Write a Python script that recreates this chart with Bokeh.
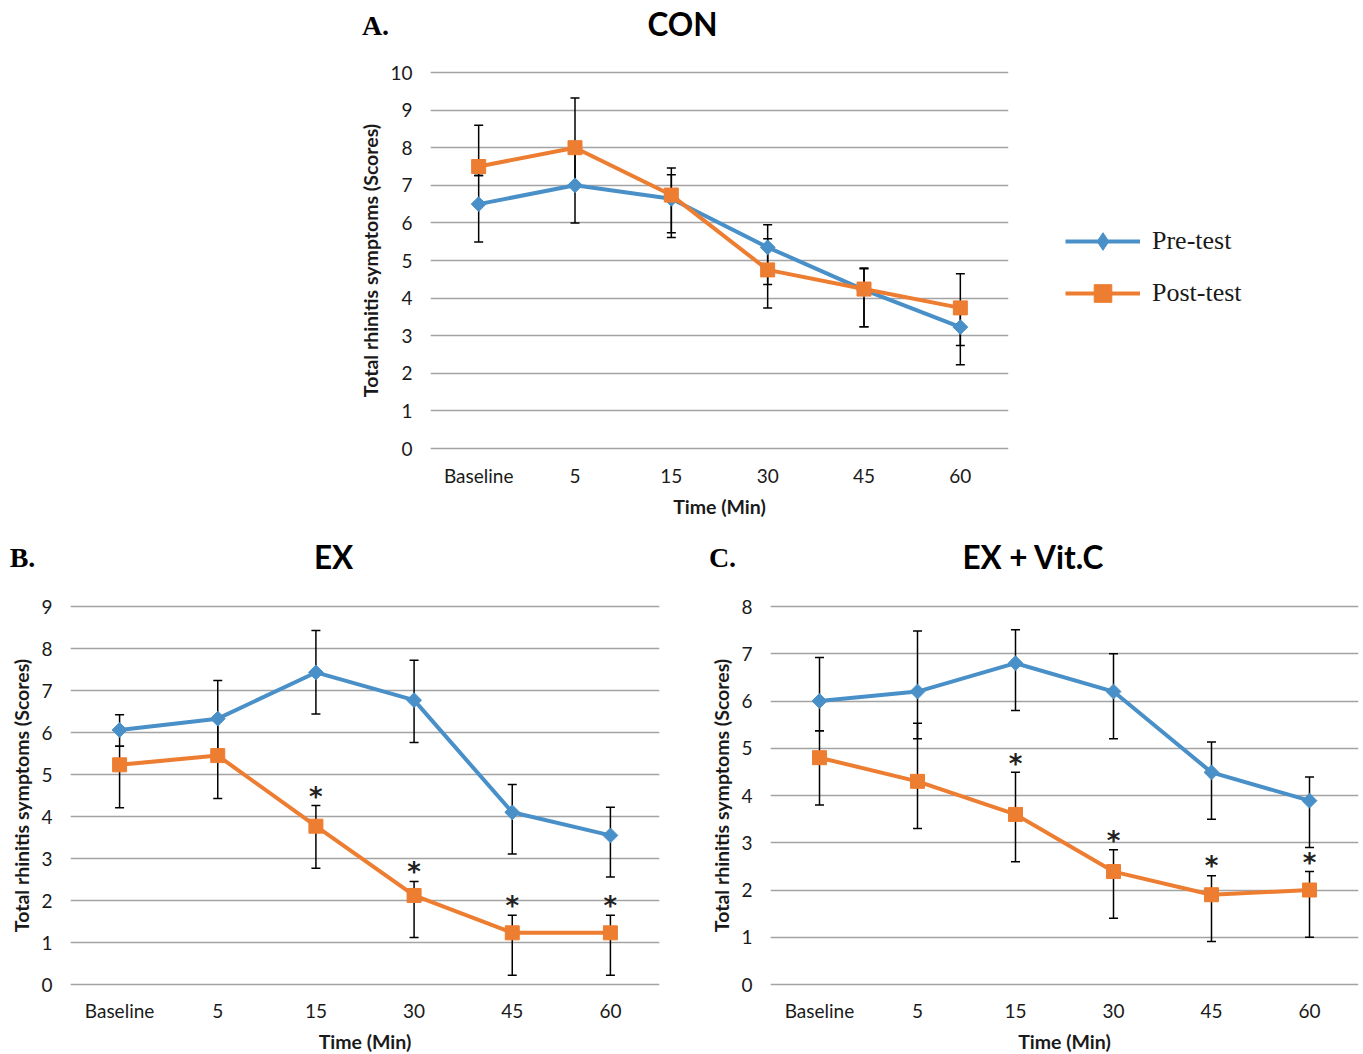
import math
from bokeh.plotting import figure
from bokeh.models import (FactorRange, Range1d, ColumnDataSource, Whisker, TeeHead,
                          Label, Legend, LegendItem, SingleIntervalTicker)
from bokeh.layouts import column, row
from bokeh.core.properties import value
from bokeh.embed import file_html
from bokeh.resources import INLINE

# ---------------- data ----------------
times = ["Baseline", "5", "15", "30", "45", "60"]

# A. CON
con_pre = [6.5, 7.0, 6.64, 5.35, 4.22, 3.23]
con_pre_lo = [5.49, 6.0, 5.61, 4.36, 3.24, 2.23]
con_pre_hi = [7.26, 8.0, 7.46, 5.95, 4.78, 3.74]
con_post = [7.5, 8.0, 6.74, 4.75, 4.24, 3.74]
con_post_lo = [7.26, 7.0, 5.74, 3.74, 3.24, 2.74]
con_post_hi = [8.6, 9.32, 7.28, 5.58, 4.8, 4.65]

# B. EX
ex_pre = [6.06, 6.33, 7.43, 6.77, 4.10, 3.55]
ex_pre_lo = [5.67, 5.45, 6.44, 5.76, 3.11, 2.56]
ex_pre_hi = [6.42, 7.24, 8.43, 7.72, 4.76, 4.22]
ex_post = [5.23, 5.45, 3.77, 2.12, 1.23, 1.23]
ex_post_lo = [4.21, 4.43, 2.77, 1.12, 0.22, 0.22]
ex_post_hi = [5.67, 6.33, 4.26, 2.45, 1.65, 1.65]
ex_star_x = ["15", "30", "45", "60"]
ex_star_y = [4.51, 2.72, 1.92, 1.92]

# C. EX + Vit.C
vc_pre = [6.0, 6.2, 6.8, 6.2, 4.49, 3.89]
vc_pre_lo = [5.37, 5.2, 5.8, 5.2, 3.5, 2.9]
vc_pre_hi = [6.92, 7.48, 7.51, 7.0, 5.13, 4.39]
vc_post = [4.8, 4.3, 3.6, 2.39, 1.9, 2.0]
vc_post_lo = [3.8, 3.3, 2.6, 1.4, 0.91, 1.0]
vc_post_hi = [5.37, 5.53, 4.49, 2.85, 2.3, 2.39]
vc_star_x = ["15", "30", "45", "60"]
vc_star_y = [4.70, 3.08, 2.54, 2.61]

y_max = [10, 9, 8]
series_names = ["Pre-test", "Post-test"]
panel_titles = ["CON", "EX", "EX + Vit.C"]
panel_letters = ["A.", "B.", "C."]

# ---------------- style ----------------
BLUE = "#4a90c8"
ORANGE = "#ed7d31"
GRID = "#a3a3a3"
TXT = "#1a1a1a"
SANS = "Lato"
SERIF = "Liberation Serif"
W = 1363


def make_panel(pre, pre_lo, pre_hi, post, post_lo, post_hi, ymax,
               frame_w, frame_h, px_per_unit, borders, star_x=None, star_y=None,
               x_std=(13, 5)):
    pad = (frame_h / px_per_unit - ymax) / 2.0
    left, right, top, bottom = borders
    p = figure(x_range=FactorRange(*times), y_range=Range1d(-pad, ymax + pad),
               frame_width=frame_w, frame_height=frame_h, title=None,
               min_border_left=left, min_border_right=right,
               min_border_top=top, min_border_bottom=bottom,
               output_backend="svg", toolbar_location=None)
    # off-screen range: used only so that a legend-only diamond glyph is not shown
    p.extra_y_ranges = {"legend_only": Range1d(1000, 1001)}
    p.outline_line_color = None
    p.xgrid.grid_line_color = None
    p.ygrid.grid_line_color = GRID
    p.ygrid.grid_line_width = 1.6
    p.yaxis.ticker = SingleIntervalTicker(interval=1, num_minor_ticks=0)
    for ax in (p.xaxis[0], p.yaxis[0]):
        ax.axis_line_color = None
        ax.major_tick_line_color = None
        ax.minor_tick_line_color = None
        ax.major_tick_out = 0
        ax.major_tick_in = 0
        ax.major_label_text_font = SANS
        ax.major_label_text_font_size = "19px"
        ax.major_label_text_color = TXT
        ax.axis_label_text_font = SANS
        ax.axis_label_text_font_style = "bold"
        ax.axis_label_text_font_size = "19.5px"
        ax.axis_label_text_color = TXT
    p.yaxis.axis_label = "Total rhinitis symptoms (Scores)"
    p.xaxis.axis_label = "Time (Min)"
    p.yaxis.major_label_standoff = 18
    p.yaxis.axis_label_standoff = 5
    p.xaxis.major_label_standoff = x_std[0]
    p.xaxis.axis_label_standoff = x_std[1]

    src_pre = ColumnDataSource(dict(x=times, y=pre, lo=pre_lo, hi=pre_hi))
    src_post = ColumnDataSource(dict(x=times, y=post, lo=post_lo, hi=post_hi))

    for src in (src_pre, src_post):
        w = Whisker(base="x", lower="lo", upper="hi", source=src, dimension="height",
                    line_color="black", line_width=1.5, level="underlay",
                    upper_head=TeeHead(size=9, line_color="black", line_width=1.5),
                    lower_head=TeeHead(size=9, line_color="black", line_width=1.5))
        p.add_layout(w)

    l1 = p.line("x", "y", source=src_pre, line_color=BLUE, line_width=4)
    l2 = p.line("x", "y", source=src_post, line_color=ORANGE, line_width=4)
    p.scatter("x", "y", source=src_pre, marker="square", size=10.5,
              angle=math.pi / 4, fill_color=BLUE, line_color=BLUE)
    s2 = p.scatter("x", "y", source=src_post, marker="square", size=14,
                   fill_color=ORANGE, line_color=ORANGE)
    # diamond renderer used only for the legend glyph (mapped off-screen)
    d1 = p.scatter("x", "y", source=src_pre, marker="diamond", size=14,
                   fill_color=BLUE, line_color=BLUE, y_range_name="legend_only")

    if star_x is not None:
        p.text(x=star_x, y=star_y, text=["*"] * len(star_x),
               text_font=value("DejaVu Sans"), text_font_size="26px",
               text_font_style="bold",
               text_align="center", text_baseline="middle", text_color="#222222",
               y_offset=2)
    return p, (l1, d1, l2, s2)


def header(height, items):
    h = figure(width=W, height=height, x_range=Range1d(0, W), y_range=Range1d(0, height),
               frame_width=W, frame_height=height,
               min_border_left=0, min_border_right=0, min_border_top=0,
               min_border_bottom=0, title=None, toolbar_location=None,
               output_backend="svg", x_axis_location=None, y_axis_location=None)
    h.grid.visible = False
    h.outline_line_color = None
    for (txt, cx, cy_top, font, size) in items:
        h.add_layout(Label(x=cx, y=height - cy_top, x_units="screen", y_units="screen",
                           text=txt, text_font=font, text_font_style="bold",
                           text_font_size=size, text_color="black",
                           text_align="center", text_baseline="middle"))
    return h


# header for panel A (page y 0..50)
hA = header(50, [(panel_letters[0], 375, 25, SERIF, "28px"),
                 (panel_titles[0], 682, 23, SANS, "31.5px")])

# Panel A: frame x 430..1008, y 70..450 (page)
pA, rA = make_panel(con_pre, con_pre_lo, con_pre_hi, con_post, con_post_lo, con_post_hi,
                    y_max[0], 578, 380, 37.6, (430, 355, 20, 85))

legend = Legend(items=[LegendItem(label=series_names[0], renderers=[rA[0], rA[1]]),
                       LegendItem(label=series_names[1], renderers=[rA[2], rA[3]])],
                location=(57, 135), orientation="vertical",
                glyph_width=75, glyph_height=44, label_height=44, spacing=8,
                label_standoff=12, padding=0, margin=0,
                border_line_color=None, background_fill_alpha=0,
                label_text_font=SERIF, label_text_font_size="26px",
                label_text_color=TXT)
pA.add_layout(legend, "right")

# header for panels B and C (page y 535..585)
hBC = header(50, [(panel_letters[1], 22, 22, SERIF, "28px"),
                  (panel_titles[1], 333, 21, SANS, "31.5px"),
                  (panel_letters[2], 722, 22, SERIF, "28px"),
                  (panel_titles[2], 1033, 21, SANS, "31.5px")])

# Panel B: frame x 70..659, y 604..986
pB, _ = make_panel(ex_pre, ex_pre_lo, ex_pre_hi, ex_post, ex_post_lo, ex_post_hi,
                   y_max[1], 589, 382, 42.0, (70, 41, 19, 68), ex_star_x, ex_star_y,
                   (12, 5))

# Panel C: frame x 770..1358
pC, _ = make_panel(vc_pre, vc_pre_lo, vc_pre_hi, vc_post, vc_post_lo, vc_post_hi,
                   y_max[2], 588, 382, 47.25, (70, 5, 19, 68), vc_star_x, vc_star_y,
                   (12, 5))

layout = column(row(hA), row(pA), row(hBC), row(pB, pC, spacing=0), spacing=0)

with open("out.html", "w") as f:
    f.write(file_html(layout, INLINE))
